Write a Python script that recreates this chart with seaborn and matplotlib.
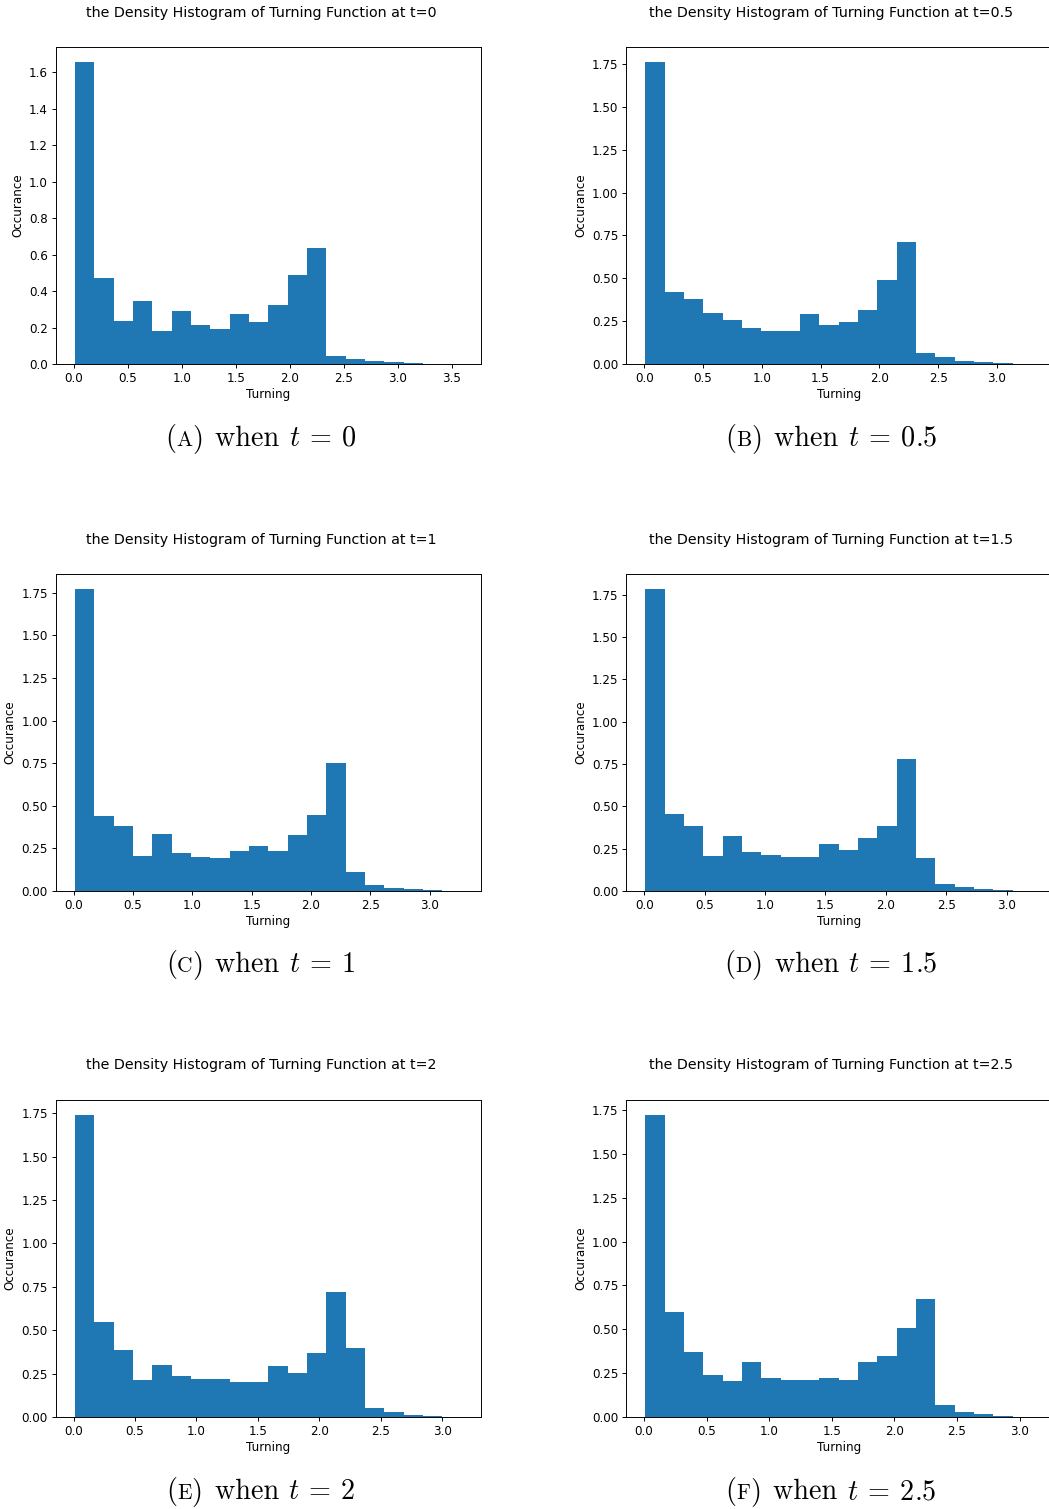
import numpy as np
import pandas as pd
import matplotlib
matplotlib.use("Agg")
import matplotlib.pyplot as plt
from matplotlib.offsetbox import TextArea, HPacker, AnnotationBbox, DrawingArea
import seaborn as sns

# Density of the turning function at six times; 20 equal-width bins per panel
times = ["0", "0.5", "1", "1.5", "2", "2.5"]
letters = ["A", "B", "C", "D", "E", "F"]
bin_lo = [0.01, 0.01, 0.01, 0.01, 0.01, 0.01]
bin_hi = [3.59, 3.30, 3.27, 3.21, 3.16, 3.10]

density_t0 = [1.655, 0.472, 0.233, 0.344, 0.180, 0.293, 0.213, 0.190, 0.272, 0.228,
              0.323, 0.490, 0.638, 0.042, 0.026, 0.016, 0.011, 0.007, 0.002, 0.001]
density_t05 = [1.762, 0.423, 0.378, 0.297, 0.258, 0.208, 0.192, 0.192, 0.293, 0.227,
               0.243, 0.318, 0.493, 0.712, 0.062, 0.039, 0.017, 0.012, 0.008, 0.001]
density_t1 = [1.771, 0.438, 0.380, 0.204, 0.337, 0.223, 0.198, 0.192, 0.237, 0.262,
              0.233, 0.329, 0.444, 0.750, 0.110, 0.037, 0.018, 0.012, 0.008, 0.001]
density_t15 = [1.784, 0.457, 0.382, 0.205, 0.325, 0.229, 0.215, 0.199, 0.199, 0.276,
               0.244, 0.315, 0.382, 0.780, 0.195, 0.043, 0.022, 0.012, 0.006, 0.001]
density_t2 = [1.739, 0.548, 0.387, 0.215, 0.301, 0.238, 0.219, 0.219, 0.203, 0.203,
              0.291, 0.251, 0.366, 0.721, 0.395, 0.052, 0.027, 0.012, 0.008, 0.001]
density_t25 = [1.721, 0.598, 0.368, 0.241, 0.205, 0.315, 0.220, 0.213, 0.213, 0.220,
               0.213, 0.315, 0.345, 0.509, 0.670, 0.070, 0.030, 0.015, 0.008, 0.001]
densities = [density_t0, density_t05, density_t1, density_t15, density_t2, density_t25]

plt.rcParams["mathtext.fontset"] = "cm"

W, H = 1049, 1509
fig = plt.figure(figsize=(W / 100, H / 100), dpi=100)

S = 0.857  # scale of the original matplotlib panels
col_left = [55.5, 626.0]
col_text = [261.0, 831.0]
row_top = [47.0, 574.0, 1100.0]
ax_w, ax_h = 425.5, 317.0
title_y = [12.5, 539.5, 1065.5]
caption_y = [438.5, 964.5, 1491.5]
CAP = 20.3

for i, (dens, t, letter) in enumerate(zip(densities, times, letters)):
    r, c = divmod(i, 2)
    left = col_left[c]
    top = row_top[r]
    ax = fig.add_axes([left / W, 1 - (top + ax_h) / H, ax_w / W, ax_h / H])

    nb = len(dens)
    step = (bin_hi[i] - bin_lo[i]) / nb
    df = pd.DataFrame({"turning": bin_lo[i] + step * (np.arange(nb) + 0.5),
                       "density": dens})
    sns.histplot(data=df, x="turning", weights="density", bins=nb,
                 binrange=(bin_lo[i], bin_hi[i]),
                 stat="count", element="step", fill=True, alpha=1,
                 linewidth=0, color="#1f77b4", ax=ax)
    ax.set_xmargin(0.05)
    ax.autoscale_view()

    ax.set_xlabel("Turning", fontsize=10 * S, labelpad=3 * S)
    ax.set_ylabel("Occurance", fontsize=10 * S, labelpad=4 * S)
    ax.tick_params(labelsize=10 * S, length=3.5 * S, width=0.8 * S, pad=3.0 * S)
    for sp in ax.spines.values():
        sp.set_linewidth(0.8 * S)

    fig.text(col_text[c] / W, 1 - title_y[r] / H,
             f"the Density Histogram of Turning Function at t={t}",
             ha="center", va="center", fontsize=12 * S)

    # sub-figure caption: (X) when t = value
    rm = dict(fontfamily="cmr10", fontsize=CAP)
    sc = dict(fontfamily="cmr10", fontsize=CAP * 0.76)
    parts = [TextArea("(", textprops=rm),
             TextArea(letter, textprops=sc),
             TextArea(")", textprops=rm),
             DrawingArea(8.5, 1),
             TextArea("when ", textprops=rm),
             TextArea(rf"$t\:=\:{t}$", textprops=dict(fontsize=CAP))]
    pack = HPacker(children=parts, align="baseline", pad=0, sep=0)
    ab = AnnotationBbox(pack, (col_text[c], H - caption_y[r]),
                        xycoords="figure pixels", frameon=False,
                        box_alignment=(0.5, 0.5), annotation_clip=False)
    fig.add_artist(ab)

fig.savefig("out.png", dpi=100)
